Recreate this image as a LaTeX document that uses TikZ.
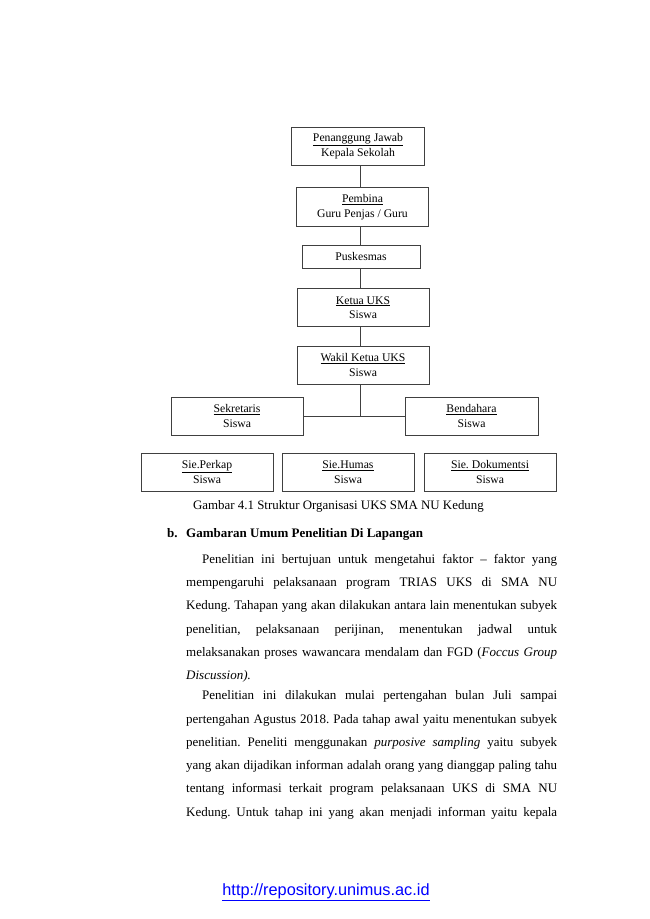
\documentclass[tikz,border=0pt]{standalone}
\usepackage{fontspec}
\setmainfont{Liberation Serif}
\newfontfamily\urlfont{Liberation Sans}
\frenchspacing
\begin{document}
\begin{tikzpicture}
  [x=1pt,y=-1pt,
   every node/.style={inner sep=0pt},
   unit/.style={draw=black!75,line width=.8pt,minimum width=132pt,minimum height=38pt,
     align=center,font=\fontsize{11.7}{14.5}\selectfont},
   body/.style={anchor=north west,text width=371pt,align=justify,
     font=\fontsize{13}{23.3}\selectfont}]
  \useasboundingbox (0,0) rectangle (650,919);
  \coordinate (axis) at (360.5,0);

  \node[unit,minimum width=133pt] (pj) at (358,146) {\underline{Penanggung Jawab}\\Kepala Sekolah};
  \node[unit,minimum height=39pt] (pb) at (362.5,207) {\underline{Pembina}\\Guru Penjas / Guru};
  \node[unit,minimum width=118pt,minimum height=23pt] (pk) at (361,256.5) {Puskesmas};
  \node[unit] (ku) at (363,307.5) {\underline{Ketua UKS}\\Siswa};
  \node[unit] (wk) at (363,365) {\underline{Wakil Ketua UKS}\\Siswa};
  \node[unit] (sk) at (237,416) {\underline{Sekretaris}\\Siswa};
  \node[unit,minimum width=133pt] (bd) at (471.5,416) {\underline{Bendahara}\\Siswa};
  \node[unit] (sp) at (207,472) {\underline{Sie.Perkap}\\Siswa};
  \node[unit] (sh) at (348,472) {\underline{Sie.Humas}\\Siswa};
  \node[unit] (sd) at (490,472) {\underline{Sie. Dokumentsi}\\Siswa};

  \foreach \from/\to in {pj/pb,pb/pk,pk/ku,ku/wk}
    \draw[black!75,line width=.8pt] (\from.south -| axis) -- (\to.north -| axis);
  \draw[black!75,line width=.8pt] (wk.south -| axis) -- (sk.east -| axis);
  \draw[black!75,line width=.8pt] (sk.east) -- (bd.west);

  \node[font=\fontsize{12.9}{15}\selectfont] (cap) at (338.5,506)
    {Gambar 4.1 Struktur Organisasi UKS SMA NU Kedung};

  \node[anchor=base west,font=\fontsize{13}{15}\selectfont\bfseries] (hb) at (167,537.5) {b.};
  \node[anchor=base west,font=\fontsize{13}{15}\selectfont\bfseries] (hd) at (186,537.5)
    {Gambaran Umum Penelitian Di Lapangan};

  \node[body] (p1) at (186,554) {\hspace*{16pt}Penelitian ini bertujuan untuk mengetahui faktor -- faktor yang\linebreak
    mempengaruhi pelaksanaan program TRIAS UKS di SMA NU\linebreak
    Kedung. Tahapan yang akan dilakukan antara lain menentukan subyek\linebreak
    penelitian, pelaksanaan perijinan, menentukan jadwal untuk\linebreak
    melaksanakan proses wawancara mendalam dan FGD (\textit{Foccus Group\linebreak
    Discussion).}};

  \node[body] (p2) at (186,690.5) {\hspace*{16pt}Penelitian ini dilakukan mulai pertengahan bulan Juli sampai\linebreak
    pertengahan Agustus 2018. Pada tahap awal yaitu menentukan subyek\linebreak
    penelitian. Peneliti menggunakan \textit{purposive sampling} yaitu subyek\linebreak
    yang akan dijadikan informan adalah orang yang dianggap paling tahu\linebreak
    tentang informasi terkait program pelaksanaan UKS di SMA NU\linebreak
    Kedung. Untuk tahap ini yang akan menjadi informan yaitu kepala\linebreak};

  \node[font=\urlfont\fontsize{16.3}{18}\selectfont,text=blue] (url) at (326,892.5)
    {\underline{http://repository.unimus.ac.id}};
\end{tikzpicture}
\end{document}
